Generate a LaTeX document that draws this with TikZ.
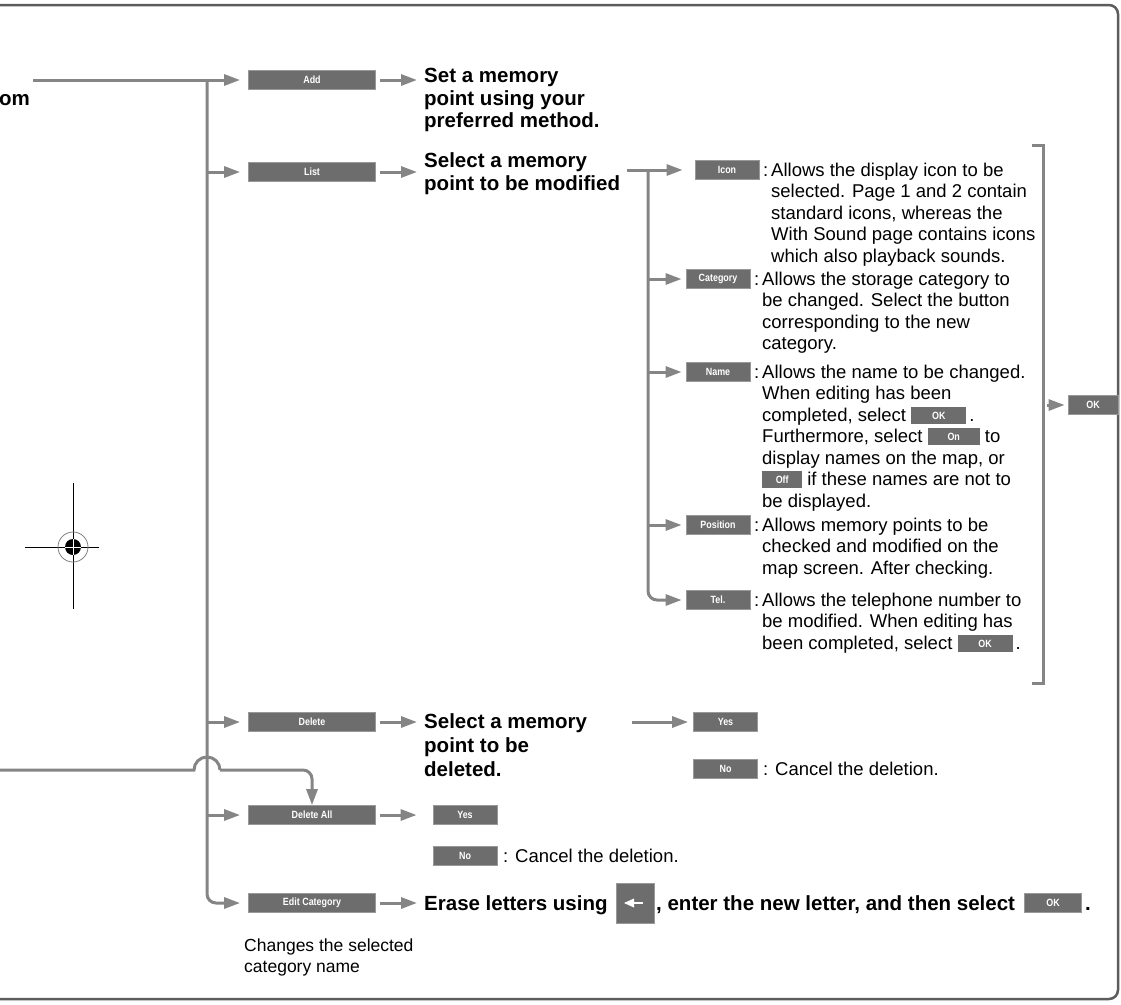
\documentclass[tikz,border=0pt]{standalone}
\usepackage{fontspec}
\setmainfont{Liberation Sans}
\newfontfamily\btnfont[FakeStretch=0.85]{Liberation Sans}
\usetikzlibrary{arrows.meta}
\definecolor{lnc}{HTML}{858585}
\definecolor{frc}{HTML}{5C5C5C}
\definecolor{btc}{HTML}{6D6D6D}
\definecolor{bte}{HTML}{999999}
\newcommand{\txr}{\fontsize{18.5}{21.5}\selectfont}
\newcommand{\txb}{\fontsize{20.5}{22.5}\selectfont\bfseries}
\newcommand{\txbd}{\fontsize{20.5}{24}\selectfont\bfseries}
\newcommand{\btl}{\btnfont\fontsize{10.5}{10.5}\selectfont\bfseries}
\newcommand{\ibtn}[2]{{\setlength{\fboxsep}{0pt}\raisebox{2pt}{\colorbox{btc}{\makebox[#2]{\rule[-4.5pt]{0pt}{17pt}\color{white}\btl #1}}}}}
\begin{document}
\begin{tikzpicture}[x=1pt,y=-1pt,
  lnk/.style={draw=lnc,line width=3pt},
  arr/.style={lnk,-{Triangle[length=16pt,width=11pt]}},
  btn/.style={rectangle,fill=btc,draw=bte,line width=0.8pt,minimum height=19pt,inner sep=0pt,text=white,font=\btl},
  mbtn/.style={btn,minimum width=127pt},
  sbtn/.style={btn,minimum width=64pt},
  blk/.style={anchor=north west,align=left,inner sep=0pt},
  lbl/.style={anchor=base west,inner sep=0pt}]
\useasboundingbox (0,0) rectangle (1121,1004);
% frame
\draw[frc,line width=2.5pt,rounded corners=9pt] (0,5) -- (1118,5) -- (1118,999) -- (0,999);
% registration mark
\draw[black,line width=1pt] (73,483) -- (73,609) (25,547) -- (99,547);
\draw[gray,line width=0.8pt] (73,547) circle[radius=15pt];
\fill[black] (73,547) circle[radius=8pt];
\draw[white,line width=1pt] (65,547) -- (81,547) (73,539) -- (73,555);
% main buttons
\node[mbtn] (add) at (312,80) {Add};
\node[mbtn] (list) at (312,172) {List};
\node[mbtn] (del) at (312,722) {Delete};
\node[mbtn] (dall) at (312,815) {Delete All};
\node[mbtn] (edit) at (312,903) {Edit Category};
\coordinate (src) at (33,80);
\coordinate (tj) at (207,80);
\draw[arr,shorten >=8pt] (src) -- (add.west);
\draw[arr,rounded corners=9pt,shorten >=8pt] (tj) -- (tj |- edit) -- (edit.west);
\foreach \b in {list,del,dall} \draw[arr,shorten >=8pt] (tj |- \b) -- (\b.west);
% incoming line with hop
\coordinate (lin) at (0,770);
\coordinate (hl) at (194,770);
\coordinate (hr) at (220,770);
\draw[lnk] (lin) -- (hl) arc[start angle=180,end angle=0,radius=13pt];
\draw[arr,rounded corners=9pt] (hr) -- (dall.north |- hr) -- (dall.north);
\node[lbl,font=\txb] (om) at (-1,105) {om};
% bold texts
\node[blk,font=\txb] (addtx) at (424,67) {\strut Set a memory\\point using your\\preferred method.};
\draw[arr,shorten >=7pt] ([xshift=4pt]add.east) -- (addtx.west |- add);
\node[blk,font=\txb] (listtx) at (424,152) {\strut Select a memory\\point to be modified};
\draw[arr,shorten >=7pt] ([xshift=4pt]list.east) -- (listtx.west |- list);
\node[blk,font=\txbd] (deltx) at (424,711) {\strut Select a memory\\point to be\\deleted.};
\draw[arr,shorten >=7pt] ([xshift=4pt]del.east) -- (deltx.west |- del);
% edit row
\node[lbl,font=\txb] (er1) at (424,910) {Erase letters using};
\draw[arr,shorten >=7pt] ([xshift=4pt]edit.east) -- (er1.west |- edit);
\node[btn,minimum width=38pt,minimum height=40pt] (bsp) at (635,903) {};
\fill[white] (624,903) -- (634,898.5) -- (634,907.5) -- cycle;
\fill[white] (633,901.6) rectangle (643,904.4);
\node[lbl,font=\txb] (er2) at (656,910) {, enter the new letter, and then select};
\node[btn,minimum width=57pt] (eok) at (1053,903) {OK};
\node[lbl,font=\txb] (er3) at (1085,910) {.};
\node[blk,font=\fontsize{17.5}{20.5}\selectfont] (chg) at (244,937) {\strut Changes the selected\\category name};
% delete yes/no
\coordinate (dst) at (632,722);
\node[sbtn] (dyes) at (725.5,722) {Yes};
\draw[arr,shorten >=5pt] (dst) -- (dyes.west);
\node[sbtn] (dno) at (725.5,769) {No};
\node[lbl,font=\txr] (dnot) at (763,775) {: Cancel the deletion.};
% delete all yes/no
\node[sbtn] (ayes) at (465,815) {Yes};
\draw[arr,shorten >=16pt] ([xshift=4pt]dall.east) -- (ayes.west);
\node[sbtn] (ano) at (465,856) {No};
\node[lbl,font=\txr] (anot) at (503,862) {: Cancel the deletion.};
% list sub-branches
\coordinate (ls) at (627,170);
\coordinate (t2) at (648,170);
\node[sbtn] (icon) at (727,170) {Icon};
\node[sbtn] (cat) at (718,279) {Category};
\node[sbtn] (name) at (718,372) {Name};
\node[sbtn] (pos) at (718,525) {Position};
\node[sbtn] (tel) at (718,600) {Tel.};
\draw[arr,shorten >=12pt] (ls) -- (icon.west);
\draw[arr,rounded corners=9pt,shorten >=4pt] (t2) -- (t2 |- tel) -- (tel.west);
\foreach \b in {cat,name,pos} \draw[arr,shorten >=4pt] (t2 |- \b) -- (\b.west);
\node[lbl,font=\txr] (c1) at (763,176) {:};
\node[blk,font=\txr] (icontx) at (771,161) {\strut Allows the display icon to be\\selected. Page 1 and 2 contain\\standard icons, whereas the\\With Sound page contains icons\\which also playback sounds.};
\node[lbl,font=\txr] (c2) at (754,285) {:};
\node[blk,font=\txr] (cattx) at (762,270) {\strut Allows the storage category to\\be changed. Select the button\\corresponding to the new\\category.};
\node[lbl,font=\txr] (c3) at (754,378) {:};
\node[blk,font=\txr] (nametx) at (762,363) {\strut Allows the name to be changed.\\When editing has been\\completed, select \ibtn{OK}{55pt}\,.\\Furthermore, select \ibtn{On}{52pt} to\\display names on the map, or\\\ibtn{Off}{40pt} if these names are not to\\be displayed.};
\node[lbl,font=\txr] (c4) at (754,531) {:};
\node[blk,font=\txr] (postx) at (762,516) {\strut Allows memory points to be\\checked and modified on the\\map screen. After checking.};
\node[lbl,font=\txr] (c5) at (754,606) {:};
\node[blk,font=\txr] (teltx) at (762,591) {\strut Allows the telephone number to\\be modified. When editing has\\been completed, select \ibtn{OK}{55pt}\,.};
% bracket and OK
\coordinate (bt) at (1043,145);
\coordinate (bb) at (1043,683);
\draw[lnk] ([xshift=-11pt]bt) -- (bt) -- (bb) -- ([xshift=-11pt]bb);
\coordinate (bm) at (1047,405);
\node[btn,minimum width=50pt] (okr) at (1093,405) {OK};
\draw[arr,shorten >=3pt] (bm) -- (okr.west);
\end{tikzpicture}
\end{document}
